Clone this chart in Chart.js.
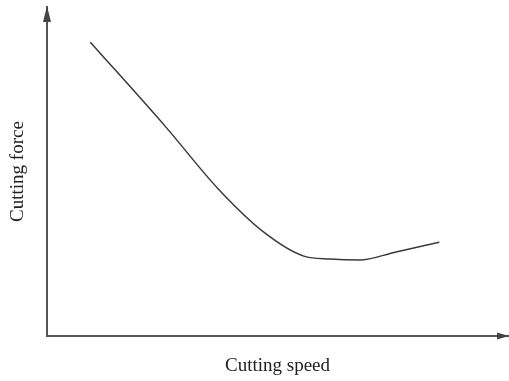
<!DOCTYPE html>
<html>
<head>
<meta charset="utf-8">
<script src="https://cdn.jsdelivr.net/npm/chart.js@4"></script>
<style>
  html, body { margin: 0; padding: 0; background: #fff; }
  #wrap { width: 509px; height: 381px; }
</style>
</head>
<body>
<div id="wrap"><canvas id="chart"></canvas></div>
<script>
// Donnees (unites arbitraires 0-100)
var vitesse = [9.4, 25.8, 37.1, 47.1, 55.7, 61.4, 67.8, 75.5, 85.1]
var effort  = [89.3, 63.5, 44.8, 31.5, 24.3, 23.4, 23.1, 25.5, 28.5]
var titreX = 'Cutting speed'
var titreY = 'Cutting force'

var points = []
for (var i = 0; i < vitesse.length; i++) {
    points.push({x: vitesse[i], y: effort[i]})
}

// fleches au bout des axes
const fleches = {
    id: 'fleches',
    afterDraw(chart) {
        var ctx = chart.ctx
        var a = chart.chartArea
        ctx.save()
        ctx.fillStyle = '#444'
        // axe Y
        ctx.beginPath()
        ctx.moveTo(a.left, a.top - 1)
        ctx.lineTo(a.left - 4, a.top + 15)
        ctx.lineTo(a.left + 4, a.top + 15)
        ctx.closePath()
        ctx.fill()
        // axe X
        ctx.beginPath()
        ctx.moveTo(a.right + 1, a.bottom)
        ctx.lineTo(a.right - 11, a.bottom - 3.5)
        ctx.lineTo(a.right - 11, a.bottom + 3.5)
        ctx.closePath()
        ctx.fill()
        ctx.restore()
    }
}

const police = {family: '"Liberation Serif", "DejaVu Serif", serif', size: 19}

const config = {
    type: 'line',
    data: {
        datasets: [{
            data: points,
            borderColor: '#3a3a3a',
            borderWidth: 1.5,
            pointRadius: 0,
            fill: false,
            cubicInterpolationMode: 'monotone'
        }]
    },
    options: {
        responsive: true,
        maintainAspectRatio: false,
        animation: false,
        layout: {padding: {left: 6.6, top: 7, right: 1, bottom: 1.5}},
        plugins: {legend: {display: false}, tooltip: {enabled: false}},
        scales: {
            x: {
                type: 'linear', min: 0, max: 100,
                ticks: {display: false},
                grid: {display: false},
                border: {display: true, color: '#555', width: 2},
                title: {display: true, text: titreX, color: '#222', font: police, padding: {top: 11, bottom: 1.6}}
            },
            y: {
                type: 'linear', min: 0, max: 100,
                ticks: {display: false},
                grid: {display: false},
                border: {display: true, color: '#555', width: 2},
                title: {display: true, text: titreY, color: '#222', font: police, padding: {top: 0, bottom: 9.6}}
            }
        }
    },
    plugins: [fleches]
}

window.onload = function() {
    var ctx = document.getElementById('chart').getContext('2d')
    var monGraph = new Chart(ctx, config)
}
</script>
</body>
</html>
